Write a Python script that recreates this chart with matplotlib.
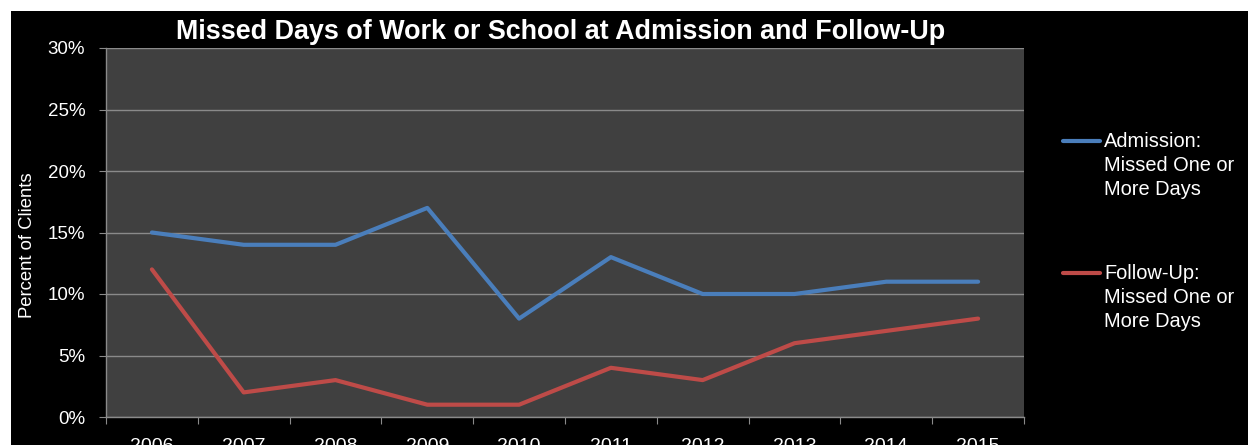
import matplotlib
matplotlib.use("Agg")
import matplotlib.pyplot as plt
from matplotlib.patches import Rectangle
from matplotlib.lines import Line2D
from matplotlib.ticker import FuncFormatter

years = ["2006", "2007", "2008", "2009", "2010", "2011", "2012", "2013", "2014", "2015"]
admission = [15, 14, 14, 17, 8, 13, 10, 10, 11, 11]
follow_up = [12, 2, 3, 1, 1, 4, 3, 6, 7, 8]
series_labels = ["Admission:\nMissed One or\nMore Days", "Follow-Up:\nMissed One or\nMore Days"]

W, H = 1248, 445
plt.rcParams['font.family'] = ['Liberation Sans', 'DejaVu Sans']

fig = plt.figure(figsize=(W / 100, H / 100), dpi=100, facecolor="white")
# black slide background with thin white margin top/left
fig.patches.append(Rectangle((11 / W, 0), 1, 1 - 11 / H, transform=fig.transFigure,
                             facecolor="black", edgecolor="none", zorder=-10))

ax = fig.add_axes([106 / W, 1 - 417 / H, (1024 - 106) / W, (417 - 48) / H])
ax.set_facecolor("#404040")

blue = "#4A7EBB"
red = "#BE4B48"
x = list(range(len(years)))
ax.plot(x, admission, color=blue, lw=3, solid_capstyle="round", zorder=3)
ax.plot(x, follow_up, color=red, lw=3, solid_capstyle="round", zorder=3)

ax.set_xlim(-0.5, len(years) - 0.5)
ax.set_ylim(0, 30)
ax.set_yticks(range(0, 31, 5))
ax.yaxis.set_major_formatter(FuncFormatter(lambda v, p: f"{int(v)}%"))
ax.grid(axis="y", color="#8a8a8a", lw=1)
ax.set_axisbelow(True)

# category ticks sit between the points
ax.set_xticks([i - 0.5 for i in range(len(years) + 1)])
ax.set_xticklabels([])
ax.set_xticks(x, minor=True)
ax.set_xticklabels(years, minor=True)
ax.tick_params(axis="x", which="minor", length=0, pad=15, labelsize=14, colors="white")
ax.tick_params(axis="x", which="major", length=5, color="#8a8a8a")
ax.tick_params(axis="y", length=5, color="#8a8a8a", labelcolor="white", labelsize=13.5, pad=10)

for s in ["top", "right"]:
    ax.spines[s].set_visible(False)
for s in ["left", "bottom"]:
    ax.spines[s].set_color("#8a8a8a")
    ax.spines[s].set_linewidth(1)

fig.text(561 / W, 1 - 32 / H, "Missed Days of Work or School at Admission and Follow-Up",
         ha="center", va="center", color="white", fontsize=19.4, fontweight="bold")
fig.text(28 / W, 1 - 245 / H, "Percent of Clients", rotation=90, ha="center", va="center",
         color="white", fontsize=13.3)

# legend on the right
for lab, col, ly in zip(series_labels, [blue, red], [141, 273]):
    fig.add_artist(Line2D([1063 / W, 1100 / W], [1 - ly / H, 1 - ly / H], color=col, lw=3,
                          solid_capstyle="round", transform=fig.transFigure))
    fig.text(1104 / W, 1 - (ly - 9) / H, lab, ha="left", va="top", color="white",
             fontsize=14.4, linespacing=1.32)

fig.savefig("out.png", dpi=100, facecolor=fig.get_facecolor())
